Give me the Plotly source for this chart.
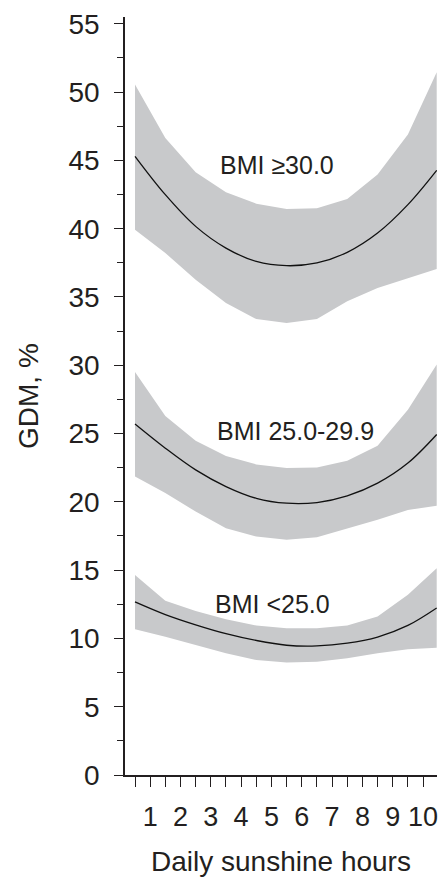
import plotly.graph_objects as go

# ---- data ----
x_pts = [0.5, 1.5, 2.5, 3.5, 4.5, 5.5, 6.5, 7.5, 8.5, 9.5, 10.45]

obese_upper = [50.55, 46.64, 44.13, 42.66, 41.83, 41.44, 41.49, 42.17, 43.96, 46.89, 51.45]
obese_lower = [39.93, 38.22, 36.26, 34.56, 33.38, 33.09, 33.38, 34.68, 35.65, 36.38, 37.04]
obese_mid = [45.3, 42.49, 40.17, 38.58, 37.6, 37.29, 37.49, 38.27, 39.68, 41.76, 44.27]

over_upper = [29.5, 26.28, 24.48, 23.35, 22.74, 22.47, 22.52, 23.0, 24.1, 26.75, 30.05]
over_lower = [21.85, 20.64, 19.29, 18.07, 17.46, 17.22, 17.41, 18.07, 18.68, 19.41, 19.72]
over_mid = [25.7, 23.93, 22.34, 21.12, 20.26, 19.9, 19.95, 20.44, 21.37, 22.84, 24.93]

normal_upper = [14.65, 12.75, 12.0, 11.4, 10.95, 10.75, 10.75, 10.95, 11.6, 13.2, 15.14]
normal_lower = [10.68, 10.13, 9.52, 8.91, 8.42, 8.23, 8.3, 8.55, 8.91, 9.2, 9.32]
normal_mid = [12.68, 11.75, 11.0, 10.35, 9.85, 9.5, 9.45, 9.65, 10.1, 10.95, 12.23]

group_labels = ["BMI \u226530.0", "BMI 25.0-29.9", "BMI <25.0"]
label_x = [5.19, 5.79, 5.02]
label_y = [44.7, 25.2, 12.55]

x_title = "Daily sunshine hours"
y_title = "GDM, %"

x_tick_vals = [0.5 * i for i in range(1, 21)]
x_tick_text = [str(int(v)) if v == int(v) else "" for v in x_tick_vals]
y_tick_vals = [0, 5, 10, 15, 20, 25, 30, 35, 40, 45, 50, 55]

BAND = "#c8c9cb"
INK = "#231f20"
FONT = "Liberation Sans, Arial, sans-serif"

fig = go.Figure()
for lo, hi, mid in [(obese_lower, obese_upper, obese_mid),
                    (over_lower, over_upper, over_mid),
                    (normal_lower, normal_upper, normal_mid)]:
    fig.add_trace(go.Scatter(x=x_pts, y=lo, mode="lines", line=dict(width=0, color=BAND),
                             showlegend=False, hoverinfo="skip"))
    fig.add_trace(go.Scatter(x=x_pts, y=hi, mode="lines", line=dict(width=0, color=BAND),
                             fill="tonexty", fillcolor=BAND, showlegend=False, hoverinfo="skip"))
    fig.add_trace(go.Scatter(x=x_pts, y=mid, mode="lines",
                             line=dict(width=1.3, color="#111111", shape="spline", smoothing=1.0),
                             showlegend=False))

for t, xx, yy in zip(group_labels, label_x, label_y):
    fig.add_annotation(x=xx, y=yy, text=t, showarrow=False,
                       font=dict(family=FONT, size=25, color=INK),
                       xanchor="center", yanchor="middle")

# axis titles as paper annotations for exact placement
fig.add_annotation(x=0.5, y=-0.1135, xref="paper", yref="paper", text=x_title,
                   showarrow=False, xanchor="center", yanchor="middle",
                   font=dict(family=FONT, size=28, color=INK))
fig.add_annotation(x=-0.311, y=0.5, xref="paper", yref="paper", text=y_title,
                   showarrow=False, xanchor="center", yanchor="middle", textangle=-90,
                   font=dict(family=FONT, size=28, color=INK))

fig.update_layout(
    width=441, height=877,
    margin=dict(l=125, r=4, t=17, b=102),
    paper_bgcolor="white", plot_bgcolor="white",
    font=dict(family=FONT, color=INK),
    showlegend=False,
)
fig.update_xaxes(
    range=[0.17, 10.46], showgrid=False, zeroline=False, automargin=False,
    showline=True, linecolor=INK, linewidth=1.5,
    ticks="outside", ticklen=10, tickwidth=1.3, tickcolor=INK,
    tickvals=x_tick_vals, ticktext=x_tick_text,
    tickfont=dict(size=27, family=FONT, color=INK),
    ticklabelstandoff=7,
)
fig.update_yaxes(
    range=[0, 55.5], showgrid=False, zeroline=False, automargin=False,
    showline=True, linecolor=INK, linewidth=1.5,
    ticks="outside", ticklen=9, tickwidth=1.3, tickcolor=INK,
    tickvals=y_tick_vals,
    tickfont=dict(size=28, family=FONT, color=INK),
    ticklabelstandoff=9,
    minor=dict(dtick=2.5, ticks="outside", ticklen=6, tickwidth=1.3, tickcolor=INK, showgrid=False),
)

# remove the default page margin so the 441x877 figure fills the window exactly
fig.write_html("out.html",
               config={"displayModeBar": False},
               post_script="document.body.style.margin='0';document.body.style.overflow='hidden';")
